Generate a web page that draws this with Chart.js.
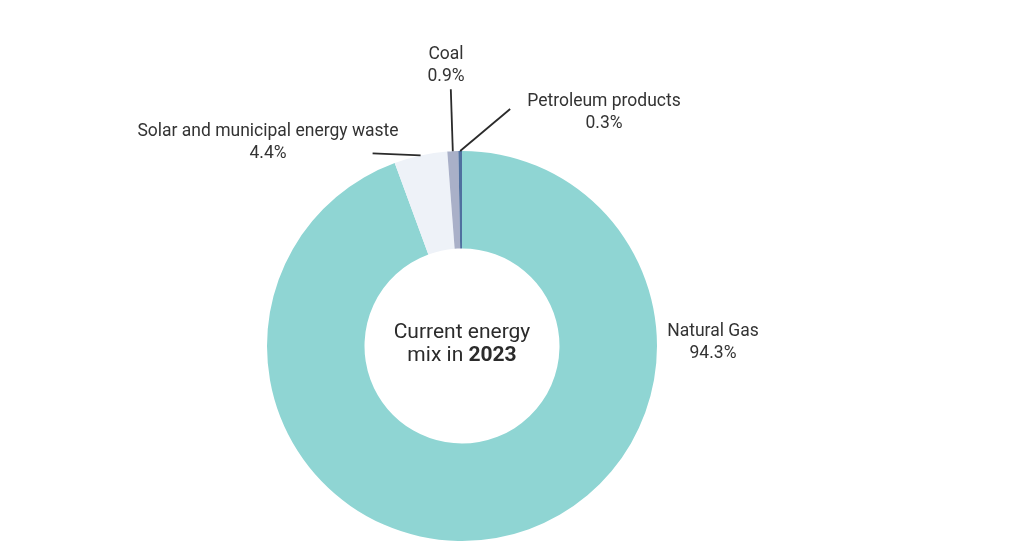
<!DOCTYPE html>
<html>
<head>
<meta charset="utf-8">
<script src="https://cdn.jsdelivr.net/npm/chart.js@4"></script>
<style>
  html, body { margin: 0; padding: 0; background: #fff; }
  #wrap { width: 1020px; height: 554px; position: relative; }
</style>
</head>
<body>
<div id="wrap"><canvas id="mixChart"></canvas></div>
<script>
"use strict";

// data
const sources = ["Natural Gas", "Solar and municipal energy waste", "Coal", "Petroleum products"];
const shares = [94.3, 4.4, 0.9, 0.3];
const shareLabels = ["94.3%", "4.4%", "0.9%", "0.3%"];
const sliceColors = ["#8fd5d3", "#eef2f8", "#a9b0c8", "#50709f"];

// where each label goes, relative to the doughnut centre (px)
// line: leader line end offset from the slice point on the rim, text: label centre
const labelLayout = [
  { line: null, text: [251, -14] },
  { line: [-48, -2], text: [-194, -214] },
  { line: [-2, -62], text: [-16, -291] },
  { line: [50, -42], text: [142, -244] }
];

/* plugin: text in the hole + labels with leader lines */
const labelPlugin = {
  id: "sliceLabels",
  afterDraw(chart) {
    const ctx = chart.ctx;
    const arcs = chart.getDatasetMeta(0).data;
    ctx.save();

    // text in the middle
    const cx = arcs[0].x;
    const cy = arcs[0].y;
    ctx.fillStyle = "#2b2b2b";
    ctx.textAlign = "center";
    ctx.textBaseline = "middle";
    ctx.font = "21px Roboto";
    ctx.fillText("Current energy", cx, cy - 13);
    const w1 = ctx.measureText("mix in ").width;
    ctx.font = "bold 21px Roboto";
    const w2 = ctx.measureText("2023").width;
    const startX = cx - (w1 + w2) / 2;
    ctx.textAlign = "left";
    ctx.font = "21px Roboto";
    ctx.fillText("mix in ", startX, cy + 10);
    ctx.font = "bold 21px Roboto";
    ctx.fillText("2023", startX + w1, cy + 10);

    // slice labels
    arcs.forEach((arc, i) => {
      const p = arc.getProps(["x", "y", "startAngle", "endAngle", "outerRadius"], true);
      const mid = (p.startAngle + p.endAngle) / 2;
      const rimX = p.x + Math.cos(mid) * p.outerRadius;
      const rimY = p.y + Math.sin(mid) * p.outerRadius;
      const lay = labelLayout[i];

      if (lay.line) {
        ctx.strokeStyle = "#2b2b2b";
        ctx.lineWidth = 1.8;
        ctx.beginPath();
        ctx.moveTo(rimX, rimY);
        ctx.lineTo(rimX + lay.line[0], rimY + lay.line[1]);
        ctx.stroke();
      }

      const tx = p.x + lay.text[0];
      const ty = p.y + lay.text[1];
      ctx.fillStyle = "#333";
      ctx.textAlign = "center";
      ctx.font = "17.5px Roboto";
      ctx.fillText(sources[i], tx, ty);
      ctx.fillText(shareLabels[i], tx, ty + 22);
    });

    ctx.restore();
  }
};

const config = {
  type: "doughnut",
  data: {
    labels: sources,
    datasets: [
      {
        data: shares,
        backgroundColor: sliceColors,
        borderWidth: 0
      }
    ]
  },
  options: {
    responsive: true,
    maintainAspectRatio: false,
    animation: false,
    cutout: "50%",
    layout: {
      padding: { top: 151, bottom: 13, left: 0, right: 96 }
    },
    plugins: {
      legend: { display: false },
      tooltip: { enabled: false }
    }
  },
  plugins: [labelPlugin]
};

new Chart(document.getElementById("mixChart"), config);
</script>
</body>
</html>
